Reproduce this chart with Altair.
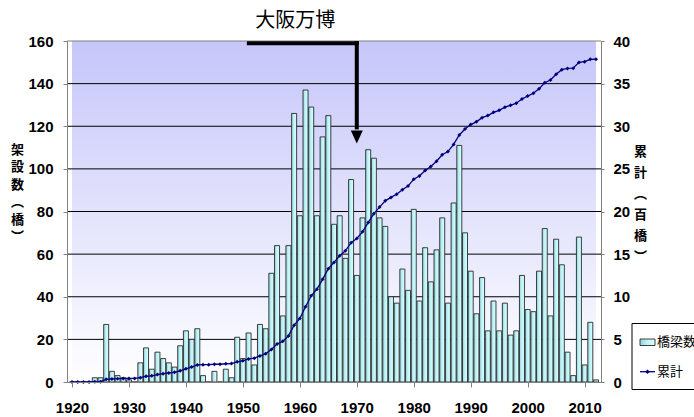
import altair as alt
import pandas as pd

# ---------------- data ----------------
years = list(range(1920, 2013))
counts = [0, 0, 0, 0, 2, 2, 27, 5, 3, 2,          # 1920-1929
          1, 0, 9, 16, 6, 14, 11, 9, 7, 17,       # 1930-1939
          24, 20, 25, 3, 0, 5, 0, 6, 2, 21,       # 1940-1949
          11, 23, 8, 27, 25, 51, 64, 31, 64, 126, # 1950-1959
          78, 137, 129, 78, 115, 125, 74, 78, 58, 95,  # 1960-1969
          50, 77, 109, 105, 77, 73, 40, 37, 53, 43,    # 1970-1979
          81, 38, 63, 47, 62, 77, 37, 84, 111, 70,     # 1980-1989
          52, 32, 49, 24, 38, 24, 37, 22, 24, 50,      # 1990-1999
          34, 33, 52, 72, 31, 67, 55, 14, 3, 68,       # 2000-2009
          8, 28, 1]                                    # 2010-2012
x_ticks = list(range(1920, 2011, 10))
left_ticks = list(range(0, 161, 20))
right_ticks = list(range(0, 41, 5))
grid_vals = list(range(20, 141, 20))
left_title = ["架", "設", "数", "︵", "橋", "︶"]
right_title = ["累", "計", "︵", "百", "橋", "︶"]
series_bar = "橋梁数"
series_line = "累計"
annotation = "大阪万博"

df = pd.DataFrame({"year": years, "count": counts})

W, H = 534, 341
NUM_FONT = "Liberation Sans Narrow, Liberation Sans, Arial, sans-serif"
CJK = "Noto Sans CJK JP"

xscale = alt.Scale(domain=[1920, 2012], nice=False, zero=False)
yscale = alt.Scale(domain=[0, 160], nice=False)
y2scale = alt.Scale(domain=[0, 40], nice=False)

x_axis = alt.Axis(values=x_ticks, format="d", title=None, grid=False,
                  tickSize=5, tickColor="#808080", domainColor="#808080",
                  labelFont=NUM_FONT, labelFontSize=15, labelFontWeight="bold",
                  labelColor="black", labelPadding=13, labelFlush=False, zindex=1)
left_axis = alt.Axis(values=left_ticks, title=left_title, grid=False,
                     tickSize=4, tickColor="#808080", domainColor="#808080",
                     labelFont=NUM_FONT, labelFontSize=15, labelFontWeight="bold",
                     labelColor="black", labelPadding=10, zindex=1,
                     titleAngle=0, titleX=-50, titleY=102, titleAlign="center",
                     titleBaseline="top", titleFont=CJK, titleFontSize=13,
                     titleFontWeight="bold", titleLineHeight=17.5, titleColor="black")
right_axis = alt.Axis(values=right_ticks, title=right_title, grid=False, orient="right",
                      tickSize=3, tickColor="#808080", domainColor="#808080",
                      labelFont=NUM_FONT, labelFontSize=15, labelFontWeight="bold",
                      labelColor="black", labelPadding=9, zindex=1,
                      titleAngle=0, titleX=39, titleY=104, titleAlign="center",
                      titleBaseline="top", titleFont=CJK, titleFontSize=13,
                      titleFontWeight="bold", titleLineHeight=21, titleColor="black")


def X(field):
    return alt.X(field, scale=xscale, axis=x_axis)


def Y(field):
    return alt.Y(field, scale=yscale, axis=left_axis)


bg_grad = alt.Gradient(gradient="linear",
                       stops=[alt.GradientStop(color="#C6C6FA", offset=0),
                              alt.GradientStop(color="#FFFFFF", offset=1)],
                       x1=0, x2=0, y1=0, y2=1)
bar_grad = alt.Gradient(gradient="linear",
                        stops=[alt.GradientStop(color="#96D2DE", offset=0),
                               alt.GradientStop(color="#BFF3F6", offset=0.45),
                               alt.GradientStop(color="#D8FFFF", offset=1)],
                        x1=0, x2=1, y1=0, y2=0)

bg_df = pd.DataFrame({"x0": [1920], "x1": [2012], "y0": [0], "y1": [160]})
bg = alt.Chart(bg_df).mark_rect(fill=bg_grad).encode(
    x=X("x0:Q"), x2="x1", y=Y("y0:Q"), y2="y1")

grid_df = pd.DataFrame({"g": grid_vals + [160],
                        "c": ["black"] * len(grid_vals) + ["#808080"]})
grid = alt.Chart(grid_df).mark_rule(strokeWidth=1).encode(
    y=Y("g:Q"), color=alt.Color("c:N", scale=None))

bars = alt.Chart(df).mark_bar(size=5, fill=bar_grad, stroke="#2a2a2a",
                              strokeWidth=0.9, clip=True).encode(
    x=X("year:Q"), y=Y("count:Q"))

# annotation arrow (data coordinates)
ah = pd.DataFrame({"x": [1950.7], "x2": [1970.35], "y": [158.9]})
arrow_h = alt.Chart(ah).mark_rule(strokeWidth=4, color="black").encode(
    x=X("x:Q"), x2="x2", y=Y("y:Q"))
av = pd.DataFrame({"x": [1970], "y": [160], "y2": [118.5]})
arrow_v = alt.Chart(av).mark_rule(strokeWidth=4, color="black").encode(
    x=X("x:Q"), y=Y("y:Q"), y2="y2")
hd = pd.DataFrame({"x": [1970], "y": [115]})
arrow_head = alt.Chart(hd).mark_point(shape="M-0.92,-1L0.92,-1L0,1Z", size=169,
                                      filled=True, color="black", opacity=1).encode(
    x=X("x:Q"), y=Y("y:Q"))
tx = pd.DataFrame({"x": [1959.2], "y": [169.3], "t": [annotation]})
ann_text = alt.Chart(tx).mark_text(font=CJK, fontSize=20, color="black",
                                   baseline="middle", align="center").encode(
    x=X("x:Q"), y=Y("y:Q"), text="t:N")

# legend (drawn in plot pixel coordinates)
lg = pd.DataFrame({"a": [0]})
leg_box = alt.Chart(lg).mark_rect(fill="white", stroke="black", strokeWidth=1).encode(
    x=alt.value(565), x2=alt.value(640), y=alt.value(282.5), y2=alt.value(348.5))
leg_sw = alt.Chart(lg).mark_rect(fill=bar_grad, stroke="#2a2a2a", strokeWidth=0.9).encode(
    x=alt.value(573), x2=alt.value(588), y=alt.value(298), y2=alt.value(304.5))
leg_line = alt.Chart(lg).mark_rule(color="#000080", strokeWidth=1.3).encode(
    x=alt.value(573), x2=alt.value(588), y=alt.value(330.7))
leg_pt = alt.Chart(lg).mark_point(shape="diamond", size=20, filled=True,
                                  color="#000080", opacity=1).encode(
    x=alt.value(580.5), y=alt.value(330.7))
leg_t1 = alt.Chart(lg).mark_text(font=CJK, fontSize=13, color="black", align="left",
                                 baseline="middle", text=series_bar).encode(
    x=alt.value(590), y=alt.value(301))
leg_t2 = alt.Chart(lg).mark_text(font=CJK, fontSize=13, color="black", align="left",
                                 baseline="middle", text=series_line).encode(
    x=alt.value(590), y=alt.value(330.7))

left_group = alt.layer(bg, grid, bars, arrow_h, arrow_v, arrow_head, ann_text,
                       leg_box, leg_sw, leg_line, leg_pt, leg_t1, leg_t2)

line = alt.Chart(df).transform_window(
    cum="sum(count)", sort=[alt.SortField("year")], frame=[None, 0]
).transform_calculate(cumh="datum.cum / 100").mark_line(
    color="#000080", strokeWidth=1.3,
    point=alt.OverlayMarkDef(shape="diamond", size=16, filled=True, color="#000080", opacity=1)
).encode(
    x=X("year:Q"),
    y=alt.Y("cumh:Q", scale=y2scale, axis=right_axis))

chart = alt.layer(left_group, line).resolve_scale(y="independent").properties(
    width=W, height=H,
    autosize=alt.AutoSizeParams(type="none"),
    padding={"left": 67, "top": 41, "right": 93, "bottom": 35},
    background="white",
).configure_view(stroke=None)

chart.save("out.html", embed_options={"renderer": "svg", "actions": False})
